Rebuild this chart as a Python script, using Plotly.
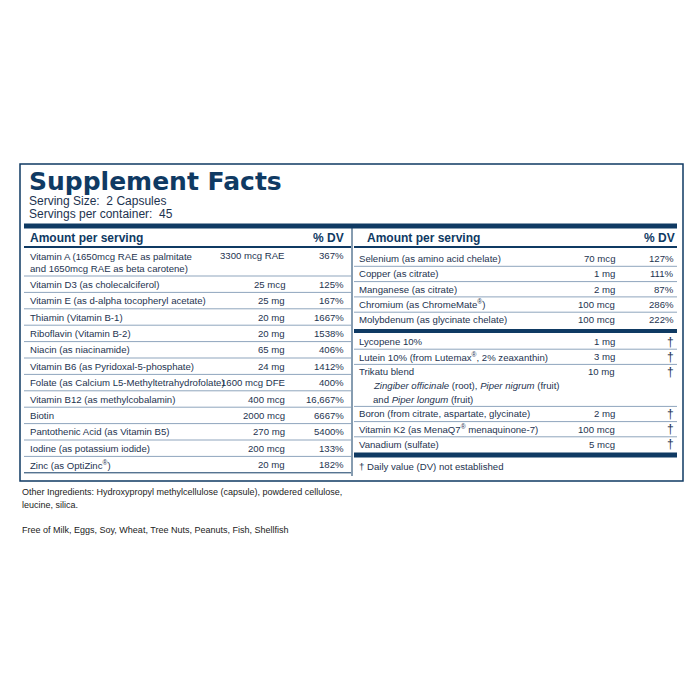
import plotly.graph_objects as go

left_names = ["Vitamin A (1650mcg RAE as palmitate<br>and 1650mcg RAE as beta carotene)", "Vitamin D3 (as cholecalciferol)",
              "Vitamin E (as d-alpha tocopheryl acetate)", "Thiamin (Vitamin B-1)", "Riboflavin (Vitamin B-2)",
              "Niacin (as niacinamide)", "Vitamin B6 (as Pyridoxal-5-phosphate)", "Folate (as Calcium L5-Methyltetrahydrofolate)",
              "Vitamin B12 (as methylcobalamin)", "Biotin", "Pantothenic Acid (as Vitamin B5)", "Iodine (as potassium iodide)",
              "Zinc (as OptiZinc<sup>®</sup>)"]
left_amounts = ["3300 mcg RAE", "25 mcg", "25 mg", "20 mg", "20 mg", "65 mg", "24 mg", "1600 mcg DFE", "400 mcg",
                "2000 mcg", "270 mg", "200 mcg", "20 mg"]
left_dv = ["367%", "125%", "167%", "1667%", "1538%", "406%", "1412%", "400%", "16,667%", "6667%", "5400%", "133%", "182%"]

right1_names = ["Selenium (as amino acid chelate)", "Copper (as citrate)", "Manganese (as citrate)",
                "Chromium (as ChromeMate<sup>®</sup>)", "Molybdenum (as glycinate chelate)"]
right1_amounts = ["70 mcg", "1 mg", "2 mg", "100 mcg", "100 mcg"]
right1_dv = ["127%", "111%", "87%", "286%", "222%"]

right2_names = ["Lycopene 10%", "Lutein 10% (from Lutemax<sup>®</sup>, 2% zeaxanthin)", "Trikatu blend",
                "Boron (from citrate, aspartate, glycinate)", "Vitamin K2 (as MenaQ7<sup>®</sup> menaquinone-7)", "Vanadium (sulfate)"]
right2_amounts = ["1 mg", "3 mg", "10 mg", "2 mg", "100 mcg", "5 mcg"]
right2_dv = ["†"] * 6

NAVY = "#0f3a63"
TXT = "#1d3350"
LINE = "#8fa5bd"
F = "Liberation Sans, Arial, sans-serif"
RS = 9.6

fig = go.Figure()
ann = []
shp = []

def t(x, y, s, size=RS, anchor="left", color=TXT, bold=False, font=F):
    if bold:
        s = "<b>" + s + "</b>"
    ann.append(dict(x=x, y=y, text=s, showarrow=False, xanchor=anchor, yanchor="middle",
                    font=dict(family=font, size=size, color=color), align="left"))

def hline(x0, x1, y, w=1, color=LINE):
    shp.append(dict(type="line", x0=x0, x1=x1, y0=y, y1=y, line=dict(color=color, width=w)))

shp.append(dict(type="rect", x0=20, x1=683, y0=164, y1=481, line=dict(color=NAVY, width=1.5)))
t(27, 181, "Supplement Facts", 25, color=NAVY, bold=True, font="Arial Black, DejaVu Sans, sans-serif")
t(27, 201, "Serving Size:  2 Capsules", 12)
t(27, 214, "Servings per container:  45", 12)
hline(24, 677, 226, 5, NAVY)
shp.append(dict(type="line", x0=352, x1=352, y0=228, y1=476, line=dict(color=NAVY, width=1)))
t(28, 238, "Amount per serving", 12, color=NAVY, bold=True)
t(346, 238, "% DV", 12, "right", NAVY, True)
t(365, 238, "Amount per serving", 12, color=NAVY, bold=True)
t(677, 238, "% DV", 12, "right", NAVY, True)
hline(24, 351, 247, 2, NAVY)
hline(354, 677, 247, 2, NAVY)

y = 248
for i, (n, a, d) in enumerate(zip(left_names, left_amounts, left_dv)):
    h = 28 if i == 0 else 16.4
    ty = y + (7.5 if i == 0 else h / 2)
    t(28, y + h / 2 if i == 0 else ty, n)
    t(287, ty, a, anchor="right")
    t(346, ty, d, anchor="right")
    y += h
    hline(24, 351, y, 1, NAVY if i == len(left_names) - 1 else LINE)

y = 251
for i, (n, a, d) in enumerate(zip(right1_names, right1_amounts, right1_dv)):
    t(357, y + 7.5, n)
    t(617, y + 7.5, a, anchor="right")
    t(676, y + 7.5, d, anchor="right")
    y += 15.3
    if i < len(right1_names) - 1:
        hline(354, 677, y)
hline(354, 677, 331, 4, NAVY)

y = 334
for i, (n, a, d) in enumerate(zip(right2_names, right2_amounts, right2_dv)):
    t(357, y + 7.5, n)
    t(617, y + 7.5, a, anchor="right")
    t(676, y + 7.5, d, 12, "right")
    h = 15.2
    if i == 2:
        t(371, y + 21.5, "<i>Zingiber officinale</i> (root), <i>Piper nigrum</i> (fruit)")
        t(371, y + 35, "and <i>Piper longum</i> (fruit)")
        h = 42
    y += h
    if i < len(right2_names) - 1:
        hline(354, 677, y)
hline(354, 677, 455, 5, NAVY)
t(357, 466, "† Daily value (DV) not established")

t(20, 492, "Other Ingredients: Hydroxypropyl methylcellulose (capsule), powdered cellulose,", 9, color="#222")
t(20, 505, "leucine, silica.", 9, color="#222")
t(20, 530, "Free of Milk, Eggs, Soy, Wheat, Tree Nuts, Peanuts, Fish, Shellfish", 9, color="#222")

fig.update_layout(width=700, height=700, margin=dict(l=0, r=0, t=0, b=0),
                  plot_bgcolor="white", paper_bgcolor="white",
                  xaxis=dict(range=[8, 708], visible=False, fixedrange=True),
                  yaxis=dict(range=[708, 8], visible=False, fixedrange=True),
                  annotations=ann, shapes=shp, showlegend=False)
fig.write_html("out.html")
